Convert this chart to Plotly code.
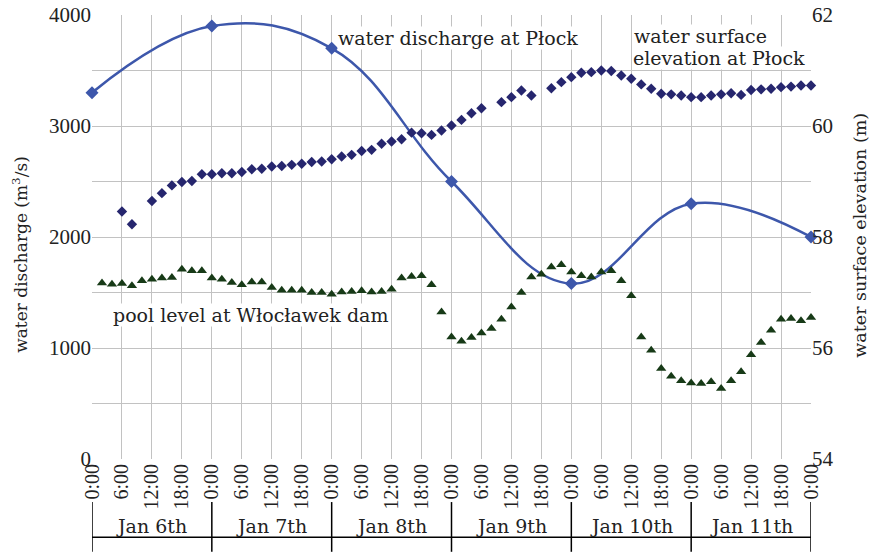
import plotly.graph_objects as go

# ---- data ----
discharge_hours = [0, 24, 48, 72, 96, 120, 144]
discharge_values = [3300, 3900, 3700, 2500, 1580, 2300, 2000]

elev_hours = [6, 8, 12, 14, 16, 18, 20, 22, 24, 26, 28, 30, 32, 34, 36, 38, 40, 42, 44, 46,
              48, 50, 52, 54, 56, 58, 60, 62, 64, 66, 68, 70, 72, 74, 76, 78, 82, 84, 86, 88,
              92, 94, 96, 98, 100, 102, 104, 106, 108, 110, 112, 114, 116, 118, 120, 122, 124,
              126, 128, 130, 132, 134, 136, 138, 140, 142, 144]
elev_values = [58.46, 58.23, 58.65, 58.79, 58.93, 58.99, 59.01, 59.13, 59.13, 59.15, 59.15, 59.17,
               59.22, 59.23, 59.27, 59.28, 59.30, 59.32, 59.35, 59.36, 59.40, 59.45, 59.48, 59.55,
               59.57, 59.68, 59.72, 59.76, 59.88, 59.87, 59.84, 59.92, 60.01, 60.11, 60.23, 60.32,
               60.43, 60.52, 60.64, 60.55, 60.68, 60.79, 60.88, 60.96, 60.97, 61.00, 60.99, 60.91,
               60.85, 60.75, 60.67, 60.58, 60.57, 60.55, 60.52, 60.52, 60.55, 60.57, 60.59, 60.56,
               60.65, 60.66, 60.67, 60.70, 60.71, 60.73, 60.73]

pool_hours = [2, 4, 6, 8, 10, 12, 14, 16, 18, 20, 22, 24, 26, 28, 30, 32, 34, 36, 38, 40, 42, 44,
              46, 48, 50, 52, 54, 56, 58, 60, 62, 64, 66, 68, 70, 72, 74, 76, 78, 80, 82, 84, 86,
              88, 90, 92, 94, 96, 98, 100, 102, 104, 106, 108, 110, 112, 114, 116, 118, 120, 122,
              124, 126, 128, 130, 132, 134, 136, 138, 140, 142, 144]
pool_values = [57.17, 57.15, 57.16, 57.12, 57.21, 57.24, 57.26, 57.27, 57.42, 57.39, 57.39, 57.26,
               57.24, 57.18, 57.14, 57.19, 57.19, 57.09, 57.04, 57.04, 57.04, 57.00, 57.00, 56.97,
               57.01, 57.02, 57.03, 57.01, 57.02, 57.06, 57.26, 57.29, 57.30, 57.14, 56.65, 56.20,
               56.12, 56.19, 56.27, 56.35, 56.52, 56.74, 57.00, 57.28, 57.33, 57.46, 57.50, 57.37,
               57.30, 57.28, 57.37, 57.39, 57.21, 56.94, 56.20, 55.96, 55.63, 55.49, 55.41, 55.37,
               55.36, 55.39, 55.27, 55.41, 55.57, 55.88, 56.10, 56.32, 56.52, 56.53, 56.49, 56.55]

x_tick_hours = [0, 6, 12, 18, 24, 30, 36, 42, 48, 54, 60, 66, 72, 78, 84, 90, 96, 102, 108, 114,
                120, 126, 132, 138, 144]
x_tick_labels = ["0:00", "6:00", "12:00", "18:00"] * 6 + ["0:00"]
day_labels = ["Jan 6th", "Jan 7th", "Jan 8th", "Jan 9th", "Jan 10th", "Jan 11th"]
day_starts = [0, 24, 48, 72, 96, 120, 144]

left_ticks = [0, 1000, 2000, 3000, 4000]
left_minor = [500, 1500, 2500, 3500]
right_ticks = [54, 56, 58, 60, 62]

NUM_FONT = "Liberation Serif"
TXT_FONT = "DejaVu Serif"
TEXT_COLOR = "#222222"
GRID = "#c2c2c2"
BLUE = "#3d57ab"
NAVY = "#26266e"
GREEN = "#173a17"

fig = go.Figure()
fig.add_trace(go.Scatter(
    x=discharge_hours, y=discharge_values, mode="lines+markers",
    line=dict(color=BLUE, width=2.5, shape="spline", smoothing=1.15),
    marker=dict(symbol="diamond", size=10, color=BLUE),
    cliponaxis=False, yaxis="y", showlegend=False))
fig.add_trace(go.Scatter(
    x=elev_hours, y=elev_values, mode="markers",
    marker=dict(symbol="diamond", size=8, color=NAVY),
    cliponaxis=False, yaxis="y2", showlegend=False))
fig.add_trace(go.Scatter(
    x=pool_hours, y=pool_values, mode="markers",
    marker=dict(symbol="triangle-up", size=9, color=GREEN),
    cliponaxis=False, yaxis="y2", showlegend=False))

fig.update_layout(
    width=870, height=554,
    margin=dict(l=92, r=59, t=15, b=95, pad=0),
    paper_bgcolor="white", plot_bgcolor="white",
    font=dict(family=NUM_FONT, size=20, color=TEXT_COLOR),
    xaxis=dict(range=[0, 144], tickmode="array", tickvals=x_tick_hours, ticktext=x_tick_labels,
               tickangle=-90, showgrid=True, gridcolor=GRID, gridwidth=1, automargin=False,
               zeroline=False, showline=False, ticks="", ticklen=0,
               ticklabeloverflow="allow", tickfont=dict(family=NUM_FONT, size=20)),
    yaxis=dict(range=[0, 4000], tickmode="array", tickvals=left_ticks,
               showgrid=True, gridcolor=GRID, gridwidth=1, zeroline=False, automargin=False,
               minor=dict(tickmode="array", tickvals=left_minor, showgrid=True,
                          gridcolor=GRID, gridwidth=1, ticks=""),
               ticklabeloverflow="allow",
               showline=False, ticks="", tickfont=dict(family=NUM_FONT, size=21)),
    yaxis2=dict(range=[54, 62], overlaying="y", side="right", tickmode="array",
                tickvals=right_ticks, showgrid=False, zeroline=False, showline=False,
                ticklabeloverflow="allow",
                automargin=False, ticks="", tickfont=dict(family=NUM_FONT, size=21)),
)

# axis titles
fig.add_annotation(text="water discharge (m<sup>3</sup>/s)", xref="paper", yref="paper",
                   x=-0.100, y=0.46, xanchor="center", yanchor="middle",
                   textangle=-90, showarrow=False,
                   font=dict(family=TXT_FONT, size=17))
fig.add_annotation(text="water surface elevation (m)", xref="paper", yref="paper",
                   x=1.068, y=0.505, xanchor="center", yanchor="middle",
                   textangle=-90, showarrow=False,
                   font=dict(family=TXT_FONT, size=17.5))

# series labels
fig.add_annotation(text="water discharge at Płock", xref="x", yref="y",
                   x=49.0, y=3793, xanchor="left", yanchor="middle", showarrow=False,
                   bgcolor="white", borderpad=0, font=dict(family=TXT_FONT, size=19))
fig.add_annotation(text="water surface", xref="x", yref="y",
                   x=108.3, y=3811, xanchor="left", yanchor="middle", showarrow=False,
                   bgcolor="white", borderpad=0, font=dict(family=TXT_FONT, size=19))
fig.add_annotation(text="elevation at Płock", xref="x", yref="y",
                   x=108.1, y=3613, xanchor="left", yanchor="middle", showarrow=False,
                   bgcolor="white", borderpad=0, font=dict(family=TXT_FONT, size=19))
fig.add_annotation(text="pool level at Włocławek dam", xref="x", yref="y",
                   x=4.0, y=1297, xanchor="left", yanchor="middle", showarrow=False,
                   bgcolor="white", borderpad=0, font=dict(family=TXT_FONT, size=19))

# day brackets below the axis
for h in day_starts:
    fig.add_shape(type="line", xref="x", yref="paper", x0=h, x1=h, y0=-0.097, y1=-0.209,
                  line=dict(color="black", width=1.5))
fig.add_shape(type="line", xref="x", yref="paper", x0=0, x1=144, y0=-0.176, y1=-0.176,
              line=dict(color="black", width=1.5))
for i, lab in enumerate(day_labels):
    fig.add_annotation(text=lab, xref="x", yref="paper", x=day_starts[i] + 12, y=-0.152,
                       yanchor="middle", showarrow=False,
                       font=dict(family=TXT_FONT, size=19))

fig.write_html("out.html", config={"displayModeBar": False},
               post_script="document.body.style.margin='0';")
